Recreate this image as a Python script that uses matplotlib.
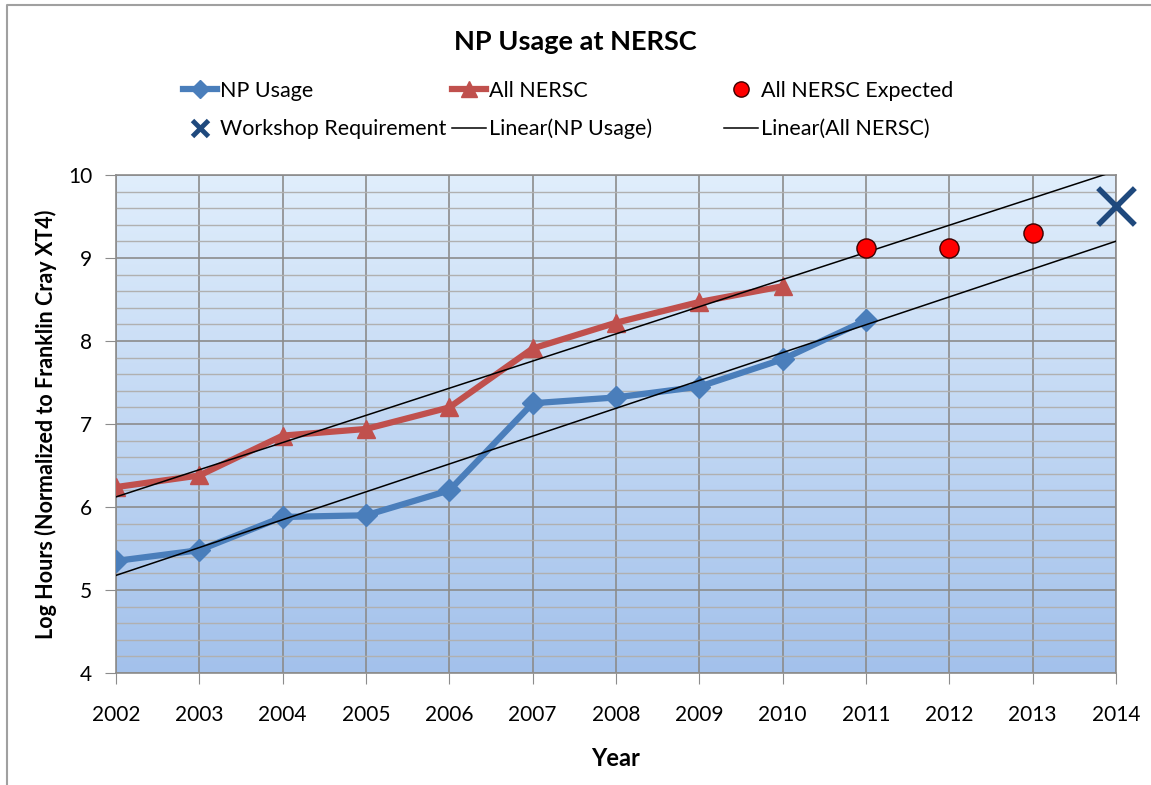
import numpy as np
import matplotlib.pyplot as plt
from matplotlib.lines import Line2D

plt.rcParams['font.family'] = ['Lato', 'DejaVu Sans']

years = [2002, 2003, 2004, 2005, 2006, 2007, 2008, 2009, 2010, 2011, 2012, 2013, 2014]
np_years = [2002, 2003, 2004, 2005, 2006, 2007, 2008, 2009, 2010, 2011]
np_usage = [5.35, 5.48, 5.88, 5.90, 6.20, 7.25, 7.32, 7.45, 7.78, 8.25]
all_years = [2002, 2003, 2004, 2005, 2006, 2007, 2008, 2009, 2010]
all_nersc = [6.24, 6.38, 6.86, 6.94, 7.20, 7.91, 8.22, 8.47, 8.66]
exp_years = [2011, 2012, 2013]
all_expected = [9.12, 9.12, 9.30]
ws_year = [2014]
ws_req = [9.63]

blue = '#4a7ebb'
red = '#c0504d'

fig = plt.figure(figsize=(11.51, 7.85), dpi=100)
ax = fig.add_axes([116 / 1151, 1 - 673 / 785, 1000 / 1151, 498 / 785])

# gradient background of plot area
grad = np.linspace(0, 1, 256).reshape(-1, 1)
top = np.array([224, 238, 252]) / 255.
bot = np.array([163, 193, 235]) / 255.
img = top[None, None, :] * (1 - grad[:, :, None]) + bot[None, None, :] * grad[:, :, None]
ax.imshow(img, extent=[2002, 2014, 4, 10], aspect='auto', origin='upper', zorder=0)

ax.set_xlim(2002, 2014)
ax.set_ylim(4, 10)
ax.set_xticks(years)
ax.set_yticks(range(4, 11))
ax.set_yticks(np.arange(4, 10.01, 0.2), minor=True)
ax.grid(True, which='major', color='#8c8c8c', lw=1.2, zorder=1)
ax.grid(True, which='minor', axis='y', color='#b0b0b0', lw=1.0, zorder=1)
ax.tick_params(axis='both', which='major', direction='out', length=8, color='#8c8c8c', labelsize=15)
ax.tick_params(axis='x', pad=15)
ax.tick_params(axis='y', pad=9)
ax.tick_params(axis='y', which='minor', length=0)
for s in ax.spines.values():
    s.set_color('#8c8c8c')
    s.set_linewidth(1.2)

# trend lines (least squares fit, extended to 2014)
x_fit = np.array([2002, 2014])
p_np = np.polyfit(np_years, np_usage, 1)
p_all = np.polyfit(all_years, all_nersc, 1)

ax.plot(np_years, np_usage, color=blue, lw=4.5, marker='D', ms=11, zorder=3, label='NP Usage')
ax.plot(all_years, all_nersc, color=red, lw=4.5, marker='^', ms=13, zorder=3, label='All NERSC')
ax.plot(x_fit, np.polyval(p_np, x_fit), color='black', lw=1.1, zorder=4)
ax.plot(x_fit, np.polyval(p_all, x_fit), color='black', lw=1.1, zorder=4)
ax.scatter(exp_years, all_expected, s=190, color='#ff0000', edgecolor='#3a0000', lw=1, zorder=5)
ax.scatter(ws_year, ws_req, s=700, marker='x', color='#1f497d', lw=4, zorder=5, clip_on=False)

ax.set_xlabel('Year', fontsize=17, fontweight='bold', labelpad=16)
ax.set_ylabel('Log Hours (Normalized to Franklin Cray XT4)', fontsize=15.5, fontweight='bold', labelpad=8)
fig.text(0.5, 1 - 42 / 785, 'NP Usage at NERSC', ha='center', va='center', fontsize=19.5, fontweight='bold')

# legend: three columns, each placed by hand
h_np = Line2D([], [], color=blue, lw=4.5, marker='D', ms=9)
h_all = Line2D([], [], color=red, lw=4.5, marker='^', ms=11)
h_exp = Line2D([], [], color='#ff0000', marker='o', ls='none', ms=11, mec='#3a0000')
h_ws = Line2D([], [], color='#1f497d', marker='x', ls='none', ms=11, mew=3.5)
h_lin1 = Line2D([], [], color='black', lw=1.1)
h_lin2 = Line2D([], [], color='black', lw=1.1)
columns = [
    ([h_np, h_ws], ['NP Usage', 'Workshop Requirement'], 183),
    ([h_all, h_lin1], ['All NERSC', 'Linear(NP Usage)'], 452),
    ([h_exp, h_lin2], ['All NERSC Expected', 'Linear(All NERSC)'], 724),
]
for hs, ls, x0 in columns:
    leg = fig.legend(hs, ls, loc='center left', bbox_to_anchor=(x0 / 1151, 1 - 110 / 785),
                     frameon=False, fontsize=15.5, handlelength=1.6, handletextpad=0.1,
                     labelspacing=0.85, borderpad=0, borderaxespad=0)

# chart border (only top and left edges fall inside the image)
fig.add_artist(Line2D([7 / 1151, 7 / 1151, 1], [0, 1 - 5 / 785, 1 - 5 / 785],
                      transform=fig.transFigure, color='#a0a0a0', lw=1.5))

fig.savefig('out.png', dpi=100)
